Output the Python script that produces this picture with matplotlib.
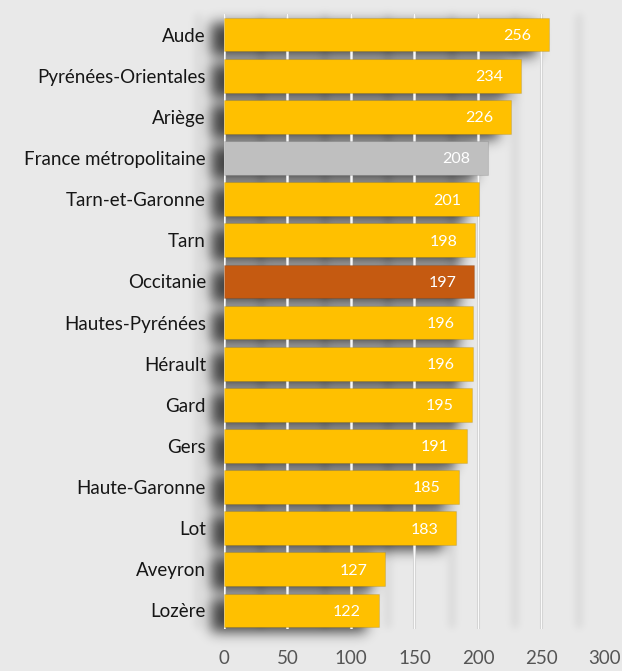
import numpy as np
import matplotlib
matplotlib.use("Agg")
import matplotlib.pyplot as plt
import matplotlib.patheffects as pe

# Données
territoires = [
    "Aude", "Pyrénées-Orientales", "Ariège", "France métropolitaine",
    "Tarn-et-Garonne", "Tarn", "Occitanie", "Hautes-Pyrénées", "Hérault",
    "Gard", "Gers", "Haute-Garonne", "Lot", "Aveyron", "Lozère",
]
valeurs = [256, 234, 226, 208, 201, 198, 197, 196, 196, 195, 191, 185, 183, 127, 122]
graduations = [0, 50, 100, 150, 200, 250, 300]

JAUNE = "#FFC000"
GRIS = "#BFBFBF"
ORANGE = "#C55A11"
FOND = "#E9E9E9"

couleurs = []
for t in territoires:
    if t == "France métropolitaine":
        couleurs.append(GRIS)
    elif t == "Occitanie":
        couleurs.append(ORANGE)
    else:
        couleurs.append(JAUNE)

W, H, DPI = 622, 671, 100
fig = plt.figure(figsize=(W / DPI, H / DPI), dpi=DPI, facecolor=FOND)
ax = fig.add_axes([0.3601, 0.0626, 0.6125, 0.9165])
ax.set_facecolor("none")

pos = np.arange(len(territoires))
hauteur = 0.82
barres = ax.barh(pos, valeurs, height=hauteur, color=couleurs,
                 edgecolor="#00000018", linewidth=0.8, zorder=3)

ax.set_xlim(graduations[0], graduations[-1])
ax.set_ylim(len(territoires) - 0.55, -0.5)
ax.set_xticks(graduations)
ax.set_yticks(pos)
ax.set_yticklabels(territoires, fontsize=13.5, family="Lato", color="#161616")
ax.tick_params(axis="y", length=0, pad=13)
ax.tick_params(axis="x", length=0, pad=15, labelsize=13.5, labelcolor="#555555")
for lab in ax.get_xticklabels():
    lab.set_family("Lato")
for s in ax.spines.values():
    s.set_visible(False)

# Grille verticale blanche
ax.set_axisbelow(True)
ax.grid(axis="x", color="#fafafa", linewidth=1.0,
        path_effects=[pe.Stroke(linewidth=2.2, foreground="#cdcdcd"), pe.Normal()])
ax.grid(axis="y", visible=False)
ax.xaxis.get_gridlines()[-1].set_visible(False)

# Valeurs dans les barres
for b, v in zip(barres, valeurs):
    ax.annotate(str(v), (v, b.get_y() + b.get_height() / 2),
                xytext=(-13, -1), textcoords="offset points",
                ha="right", va="center", color="white", fontsize=11.5, family="Lato")

# Ombre portée floue sous les barres et la grille
fig.canvas.draw()


def flou(img, sigma):
    r = int(3 * sigma)
    k = np.exp(-0.5 * (np.arange(-r, r + 1) / sigma) ** 2)
    k /= k.sum()
    img = np.apply_along_axis(lambda m: np.convolve(m, k, mode="same"), 0, img)
    img = np.apply_along_axis(lambda m: np.convolve(m, k, mode="same"), 1, img)
    return img


masque = np.zeros((H, W))
dx, dy = -13, 5
for i, v in enumerate(valeurs):
    (x0, y0), (x1, y1) = ax.transData.transform([(0, i + hauteur / 2), (v, i - hauteur / 2)])
    c0, c1 = int(round(x0 + dx)), int(round(x1 + dx))
    r0, r1 = int(round(H - y1 + dy)), int(round(H - y0 + dy))
    masque[max(r0, 0):r1, max(c0, 0):c1] = 1.0
masque = flou(masque, 6.5) * 0.72

traits = np.zeros((H, W))
ybas, yhaut = ax.transAxes.transform([(0, 0), (0, 1)])[:, 1]
for g in graduations:
    xg = ax.transData.transform((g, 0))[0] - 26
    c = int(round(xg))
    traits[int(H - yhaut):int(H - ybas), max(c - 3, 0):c + 3] = 1.0
traits = flou(traits, 4) * 0.08

alpha = np.clip(masque + traits, 0, 1)
ombre = np.zeros((H, W, 4))
ombre[..., 3] = alpha
fig.figimage(ombre, xo=0, yo=0, origin="upper", zorder=-1)

fig.savefig("out.png", dpi=DPI, facecolor=FOND)
